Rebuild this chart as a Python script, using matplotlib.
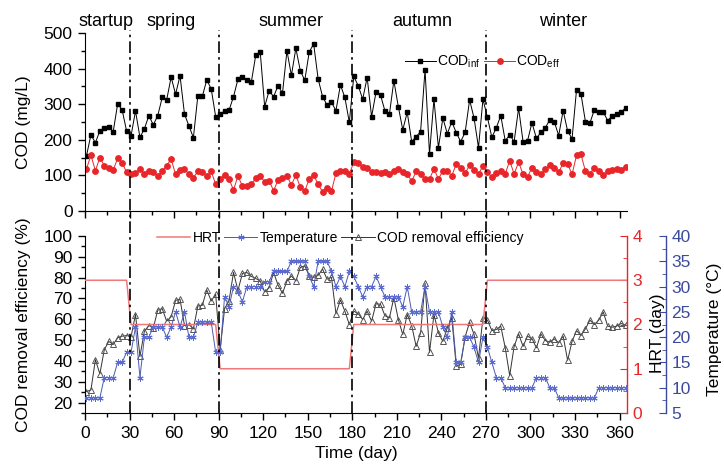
import matplotlib.pyplot as plt
import numpy as np
from matplotlib.lines import Line2D
from matplotlib.transforms import blended_transform_factory
from matplotlib.ticker import MultipleLocator

plt.rcParams['font.family'] = ['Liberation Sans', 'DejaVu Sans']
plt.rcParams['font.size'] = 12.5
plt.rcParams['mathtext.fontset'] = 'custom'
plt.rcParams['mathtext.rm'] = 'Liberation Sans'

# sampling days (every 3 days)
days = np.arange(1, 366, 3)

cod_inf = [155, 214, 192, 225, 233, 237, 223, 301, 284, 225,
           211, 281, 207, 231, 268, 242, 268, 319, 312, 376,
           328, 380, 272, 239, 206, 324, 322, 368, 343, 265,
           272, 281, 283, 321, 370, 376, 368, 362, 438, 447,
           293, 338, 321, 352, 331, 450, 381, 457, 394, 367,
           447, 469, 371, 321, 298, 305, 282, 354, 319, 249,
           378, 352, 314, 375, 265, 334, 326, 281, 272, 366,
           293, 228, 277, 195, 209, 223, 397, 160, 314, 178,
           261, 217, 251, 220, 195, 221, 312, 261, 178, 314,
           263, 207, 234, 268, 197, 214, 195, 289, 195, 197,
           248, 204, 221, 234, 256, 251, 212, 282, 225, 203,
           340, 329, 251, 247, 284, 279, 278, 254, 267, 273,
           278, 289]

cod_eff = [118, 157, 113, 150, 127, 120, 115, 148, 136, 109,
           104, 108, 117, 104, 113, 109, 97, 113, 127, 146,
           103, 115, 117, 104, 94, 111, 109, 98, 111, 75,
           90, 101, 90, 59, 98, 70, 70, 75, 92, 98,
           82, 85, 57, 87, 94, 99, 73, 101, 67, 56,
           90, 101, 75, 54, 66, 56, 106, 111, 113, 104,
           137, 134, 125, 122, 109, 109, 106, 109, 104, 111,
           118, 109, 103, 84, 111, 103, 90, 90, 118, 90,
           113, 112, 99, 132, 122, 106, 129, 115, 104, 127,
           109, 95, 106, 113, 104, 141, 104, 137, 103, 95,
           122, 109, 104, 117, 129, 122, 109, 134, 132, 103,
           156, 159, 112, 104, 122, 113, 101, 111, 115, 118,
           115, 125]

removal = [25.3, 26.1, 40.6, 33.8, 45.4, 49.4, 47.9, 51.1, 51.9, 52.2,
           51.6, 62.3, 42.2, 54.3, 57.0, 55.9, 64.4, 65.1, 59.1, 61.2,
           69.1, 69.6, 57.0, 57.5, 55.4, 66.4, 66.7, 74.1, 68.8, 72.0,
           45.3, 65.1, 68.8, 82.5, 73.9, 82.0, 82.5, 80.6, 79.6, 78.4,
           73.1, 75.2, 82.5, 76.4, 72.5, 78.4, 80.8, 78.4, 84.9, 85.7,
           80.8, 80.1, 81.1, 84.1, 79.3, 80.1, 62.7, 69.3, 63.9, 57.5,
           63.9, 62.7, 59.9, 63.9, 59.1, 67.5, 67.2, 61.7, 60.7, 70.4,
           59.9, 52.7, 62.3, 57.0, 47.0, 53.5, 77.3, 44.1, 62.3, 53.5,
           49.4, 55.9, 60.7, 37.4, 38.5, 51.6, 58.6, 52.7, 41.4, 60.7,
           59.6, 54.6, 55.1, 56.7, 46.3, 33.0, 47.0, 53.0, 47.0, 51.9,
           50.7, 46.3, 53.0, 49.8, 49.0, 50.6, 48.7, 51.9, 40.3, 49.4,
           54.6, 52.2, 55.4, 59.6, 57.5, 59.6, 63.5, 56.7, 56.2, 56.7,
           58.0, 57.2]

temperature = [8, 8, 8, 8, 12, 12, 12, 15, 15, 17,
               17, 22, 12, 20, 20, 22, 22, 22, 20, 22,
               25, 22, 25, 20, 20, 23, 23, 23, 23, 17,
               17, 28, 26, 30, 29, 27, 30, 30, 30, 30,
               31, 31, 33, 33, 33, 33, 35, 35, 35, 35,
               32, 30, 35, 35, 35, 33, 30, 32, 30, 33,
               32, 30, 28, 30, 30, 32, 30, 28, 28, 28,
               28, 26, 30, 25, 25, 25, 30, 25, 25, 25,
               22, 20, 25, 15, 15, 20, 20, 18, 15, 20,
               18, 15, 12, 12, 10, 10, 10, 10, 10, 10,
               10, 12, 12, 12, 10, 10, 8, 8, 8, 8,
               8, 8, 8, 8, 8, 10, 10, 10, 10, 10,
               10, 10]

hrt_days = [0, 28, 31, 88, 91, 178, 181, 268, 271, 365]
hrt = [3, 3, 2, 2, 1, 1, 2, 2, 3, 3]

season_names = ['startup', 'spring', 'summer', 'autumn', 'winter']
season_centers = [14, 58, 139, 227, 322]
season_bounds = [30, 90, 180, 270]

W, H = 724, 467
fig = plt.figure(figsize=(W / 100, H / 100), dpi=100)
ax1 = fig.add_axes([85 / W, 1 - 211 / H, 542 / W, 178 / H])
ax2 = fig.add_axes([85 / W, 1 - 413 / H, 542 / W, 177 / H])
axh = ax2.twinx()
axt = ax2.twinx()
axt.spines['right'].set_position(('outward', 28))

red = '#e8262a'
hrt_red = '#f07878'
blue = '#3b4a9e'

# top panel
ax1.plot(days, cod_inf, '-s', color='black', ms=3.4, lw=0.7, label=r'COD$_{\mathrm{inf}}$')
ax1.plot(days, cod_eff, '-o', color=red, ms=3.9, lw=0.7, label=r'COD$_{\mathrm{eff}}$')
ax1.set_xlim(0, 365)
ax1.set_ylim(0, 500)
ax1.set_ylabel('COD (mg/L)')
ax1.xaxis.set_major_locator(MultipleLocator(30))
ax1.xaxis.set_minor_locator(MultipleLocator(15))
ax1.yaxis.set_major_locator(MultipleLocator(100))
ax1.yaxis.set_minor_locator(MultipleLocator(50))
ax1.tick_params(axis='x', labelbottom=False)
ax1.legend(loc='center left', bbox_to_anchor=(405 / W, 1 - 62 / H),
           bbox_transform=fig.transFigure, ncol=2, frameon=False, fontsize=10,
           handlelength=2.2, handletextpad=0.1, columnspacing=0.3,
           borderpad=0, borderaxespad=0, numpoints=1)

# bottom panel
l_eff, = ax2.plot(days, removal, '-^', color='#333333', mfc='none', mec='#555555',
                  ms=5, mew=0.7, lw=0.7, label='COD removal efficiency')
l_hrt, = axh.plot(hrt_days, hrt, '-', color=hrt_red, lw=1.1, label='HRT')
l_tmp, = axt.plot(days, temperature, '-', color='#4a5ab5', lw=0.7,
                  marker=(6, 2, 0), ms=4.5, mec='#5b6bd0', mew=0.7, label='Temperature')
ax2.set_xlim(0, 365)
ax2.set_ylim(15, 100)
axh.set_ylim(0, 4)
axt.set_ylim(5, 40)
ax2.set_xlabel('Time (day)', labelpad=4)
ax2.set_ylabel('COD removal efficiency (%)')
axh.set_ylabel('HRT (day)')
axt.set_ylabel('Temperature (\u00b0C)')
ax2.xaxis.set_major_locator(MultipleLocator(30))
ax2.xaxis.set_minor_locator(MultipleLocator(15))
ax2.yaxis.set_minor_locator(MultipleLocator(5))
ax2.set_yticks(np.arange(20, 101, 10))
axh.yaxis.set_major_locator(MultipleLocator(1))
axh.yaxis.set_minor_locator(MultipleLocator(0.5))
axt.yaxis.set_major_locator(MultipleLocator(5))
axt.yaxis.set_minor_locator(MultipleLocator(2.5))
ax2.legend(handles=[l_hrt, l_tmp, l_eff], loc='center left',
           bbox_to_anchor=(157 / W, 1 - 238 / H), bbox_transform=fig.transFigure,
           ncol=3, frameon=False, fontsize=10, handlelength=2.4, handletextpad=0.15,
           columnspacing=0.25, borderpad=0, borderaxespad=0, numpoints=1)

for ax in (ax1, ax2):
    ax.spines['top'].set_visible(False)
    ax.spines['right'].set_visible(False)
    ax.tick_params(which='major', direction='out', length=5, width=1, pad=4)
    ax.tick_params(which='minor', direction='out', length=3, width=1)
    ax.yaxis.set_label_coords(-0.1, 0.5)

for ax, c in ((axh, red), (axt, blue)):
    for s in ('top', 'left', 'bottom'):
        ax.spines[s].set_visible(False)
    ax.spines['right'].set_color(c)
    ax.spines['right'].set_linewidth(1)
    ax.tick_params(axis='y', which='major', direction='in', length=5, colors=c, pad=4)
    ax.tick_params(axis='y', which='minor', direction='in', length=3, colors=c)
axh.yaxis.set_label_coords(1.042, 0.45)
axt.yaxis.set_label_coords(1.148, 0.47)
axh.yaxis.label.set_color('black')
axt.yaxis.label.set_color('black')

# season boundaries spanning both panels
tr = blended_transform_factory(ax2.transData, fig.transFigure)
for b in season_bounds:
    fig.add_artist(Line2D([b, b], [1 - 413 / H, 1 - 30 / H], transform=tr,
                          color='black', lw=1.2, linestyle=(0, (7, 2.5, 1.5, 2.5))))
for name, c in zip(season_names, season_centers):
    fig.text(c, 1 - 22 / H, name, transform=tr, ha='center', va='center', fontsize=13)

fig.savefig('out.png', dpi=100)
